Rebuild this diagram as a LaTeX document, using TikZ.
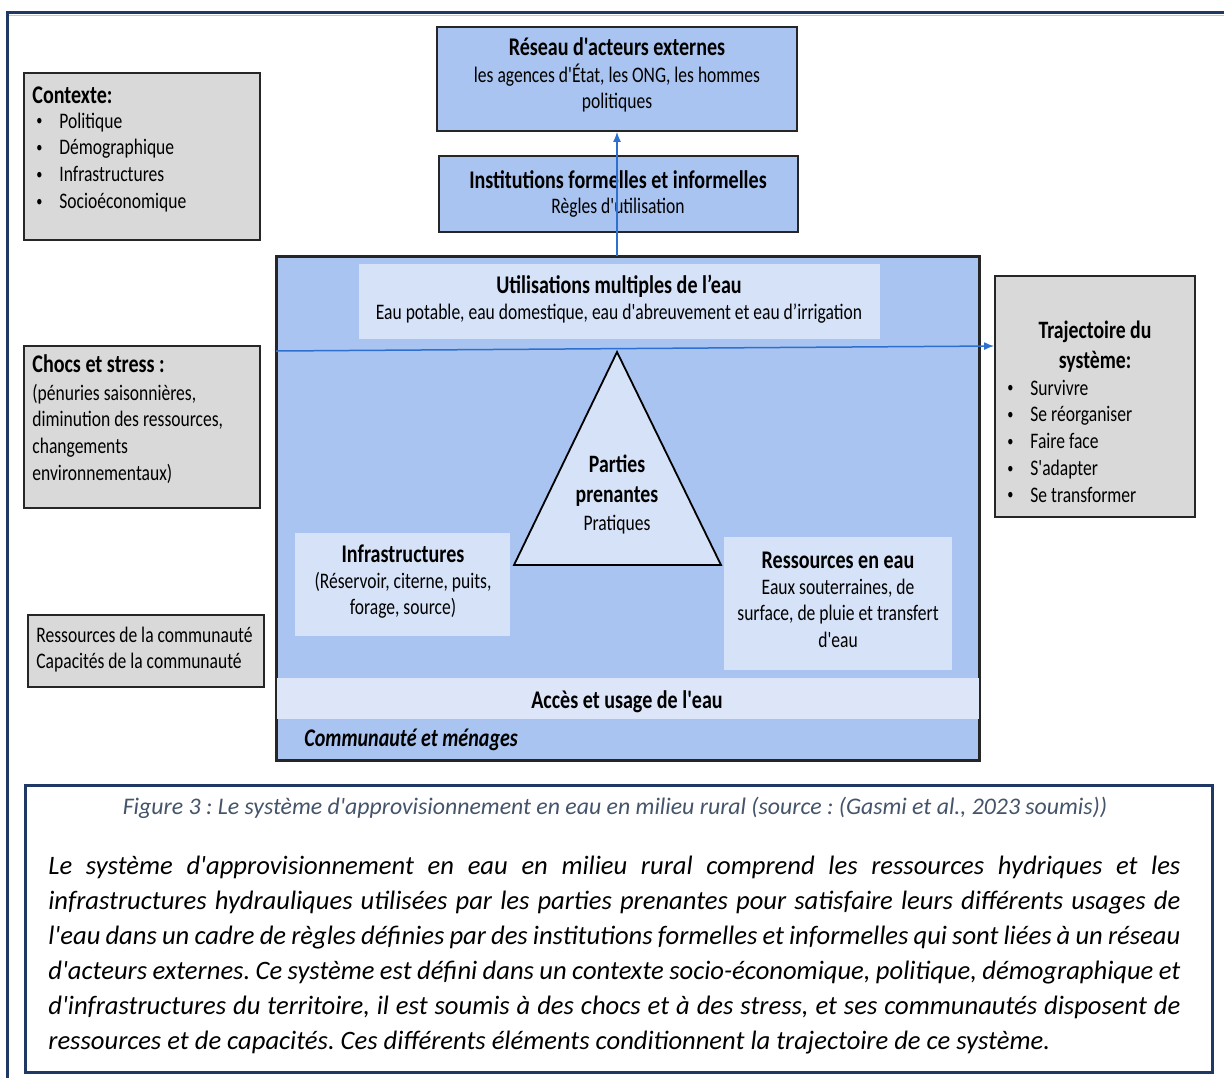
\documentclass[tikz,border=0pt]{standalone}
\usepackage{fontspec}
\setmainfont{Carlito}[Ligatures=TeXOff]
\newfontfamily\cnd{Carlito}[FakeStretch=0.79,Ligatures=TeXOff]
\usetikzlibrary{arrows.meta,fit}
\definecolor{navy}{RGB}{31,56,100}
\definecolor{navyshade}{RGB}{190,200,216}
\definecolor{midblue}{RGB}{169,196,240}
\definecolor{paleblue}{RGB}{214,226,247}
\definecolor{boxgray}{RGB}{217,217,217}
\definecolor{linkblue}{RGB}{46,112,208}
\definecolor{capgray}{RGB}{68,84,106}
\frenchspacing
\newcommand{\fullline}[1]{\hbox to 566pt{#1}}
\newcommand{\itm}[1]{\hspace*{2pt}\makebox[11.5pt][l]{\raisebox{0.1em}{\scalebox{0.7}{•}}}#1}
\begin{document}
\begin{tikzpicture}[x=0.5pt,y=-0.5pt,
  every node/.style={inner sep=0pt},
  graybox/.style={draw=black!85, line width=0.9pt, fill=boxgray},
  bluebox/.style={draw=black!85, line width=0.9pt, fill=midblue},
  palebox/.style={fill=paleblue},
  body/.style={font=\cnd\fontsize{11.1}{13.4}\selectfont},
  head/.style={font=\cnd\bfseries\fontsize{12.7}{15}\selectfont},
  bighead/.style={font=\cnd\bfseries\fontsize{12.5}{15}\selectfont},
  link/.style={draw=linkblue, line width=0.75pt, -{Latex[length=5pt,width=4pt]}},
]
\useasboundingbox (0,0) rectangle (1224,1077);
\fill[white] (0,0) rectangle (1224,1077);

% page frame
\draw[navyshade, line width=0.8pt] (9,15.5) -- (1240,15.5);
\draw[navy, line width=1.5pt] (7,1100) -- (7,12) -- (1240,12);

% left-hand context boxes (multi-line texts are placed by their last baseline)
\node[graybox, fit={(24,73) (260,240)}] (ctx) {};
\node[head, anchor=base west] (ctxh) at (32,103) {Contexte:};
\node[body, anchor=base west, align=left] (ctxb) at (32,208.4)
  {\itm{Politique}\\ \itm{Démographique}\\ \itm{Infrastructures}\\ \itm{Socioéconomique}};

\node[graybox, fit={(24,346) (260,508)}] (shock) {};
\node[head, anchor=base west] (shockh) at (32,372) {Chocs et stress :};
\node[body, anchor=base west, align=left] (shockb) at (32,480.4)
  {(pénuries saisonnières,\\ diminution des ressources,\\ changements\\ environnementaux)};

\node[graybox, fit={(28,615) (264,687)}] (comm) {};
\node[body, anchor=base west, align=left] (commb) at (36,668.8)
  {Ressources de la communauté\\ Capacités de la communauté};

% external network and institutions
\node[bluebox, fit={(437,27) (797,131)}] (res) {};
\node[head, anchor=base] (resh) at (617,55) {Réseau d'acteurs externes};
\node[body, anchor=base, align=center] (resb) at (617,108.8)
  {les agences d'État, les ONG, les hommes\\ politiques};

\node[bluebox, fit={(439,156) (798,232)}] (inst) {};
\node[head, anchor=base] (insth) at (618,188) {Institutions formelles et informelles};
\node[body, anchor=base] (instb) at (618,213) {Règles d'utilisation};

% water supply system
\node[bluebox, fit={(277,257) (979,760)}] (sys) {};
\fill[paleblue!85!white] (277,678) rectangle (979,719);
\draw[draw=black!85, line width=0.9pt] (sys.north west) rectangle (sys.south east);

\node[palebox, fit={(359,264) (880,339)}] (use) {};
\node[head, anchor=base] (useh) at (619,293) {Utilisations multiples de l’eau};
\node[body, anchor=base] (useb) at (619,319)
  {Eau potable, eau domestique, eau d'abreuvement et eau d’irrigation};

\draw[draw=black, line width=0.9pt, fill=paleblue] (617,352) -- (721,565) -- (514,565) -- cycle;
\node[bighead, anchor=base, align=center] (pph) at (617,502) {Parties\\ prenantes};
\node[body, anchor=base] (ppb) at (617,530) {Pratiques};

\node[palebox, fit={(295,533) (510,636)}] (infra) {};
\node[head, anchor=base] (infrah) at (403,562) {Infrastructures};
\node[body, anchor=base, align=center] (infrab) at (403,614.8)
  {(Réservoir, citerne, puits,\\ forage, source)};

\node[palebox, fit={(724,537) (952,670)}] (water) {};
\node[head, anchor=base] (waterh) at (838,568) {Ressources en eau};
\node[body, anchor=base, align=center] (waterb) at (838,647.6)
  {Eaux souterraines, de\\ surface, de pluie et transfert\\ d'eau};

\node[head, anchor=base] (access) at (627,708) {Accès et usage de l'eau};
\node[font=\cnd\bfseries\itshape\fontsize{12.7}{15}\selectfont, anchor=base west] (house) at (304,746) {Communauté et ménages};

% system trajectory
\node[graybox, fit={(995,276) (1195,517)}] (traj) {};
\node[bighead, anchor=base, align=center] (trajh) at (1095,368) {Trajectoire du\\ système:};
\node[body, anchor=base west, align=left] (trajb) at (1003,502.2)
  {\itm{Survivre}\\ \itm{Se réorganiser}\\ \itm{Faire face}\\ \itm{S'adapter}\\ \itm{Se transformer}};

% links
\draw[link] (res.south |- sys.north) -- (res.south);
\draw[link] (sys.west |- 0,351) -- (traj.west |- 0,346);

% caption
\node[draw=navy, line width=1.5pt, fill=white, fit={(25,785) (1212,1072)}] (cap) {};
\node[anchor=base, font=\itshape\fontsize{11.9}{14}\selectfont, text=capgray] (capt) at (615,814)
  {Figure 3 : Le système d'approvisionnement en eau en milieu rural (source : (Gasmi et al., 2023 soumis))};
\node[anchor=base west, align=left, font=\itshape\fontsize{13.3}{17.5}\selectfont] (capb) at (48,1049)
  {\fullline{Le système d'approvisionnement en eau en milieu rural comprend les ressources hydriques et les}\\
   \fullline{infrastructures hydrauliques utilisées par les parties prenantes pour satisfaire leurs différents usages de}\\
   \fullline{l'eau dans un cadre de règles définies par des institutions formelles et informelles qui sont liées à un réseau}\\
   \fullline{d'acteurs externes. Ce système est défini dans un contexte socio-économique, politique, démographique et}\\
   \fullline{d'infrastructures du territoire, il est soumis à des chocs et à des stress, et ses communautés disposent de}\\
   ressources et de capacités. Ces différents éléments conditionnent la trajectoire de ce système.};
\end{tikzpicture}
\end{document}
